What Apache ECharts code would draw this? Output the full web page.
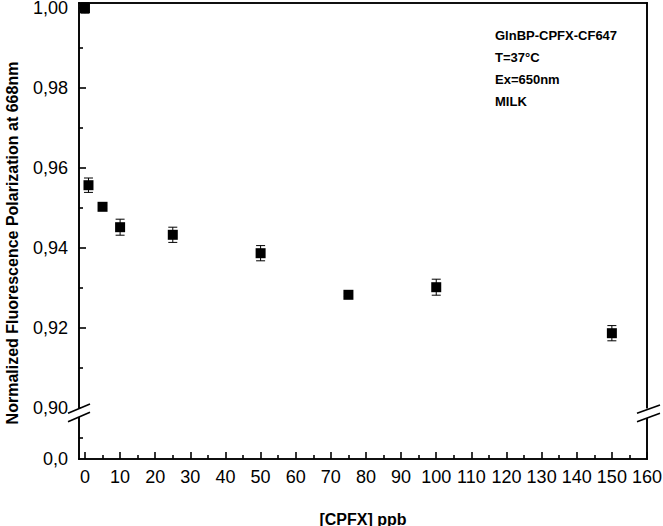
<!DOCTYPE html>
<html>
<head>
<meta charset="utf-8">
<script src="https://cdn.jsdelivr.net/npm/echarts@6/dist/echarts.min.js"></script>
<style>html,body{margin:0;padding:0;background:#fff}#c{width:663px;height:526px}</style>
</head>
<body>
<div id="c"></div>
<script>
// ---- data ----
var concentrations = [0, 1, 5, 10, 25, 50, 75, 100, 150];
var polarization = [1.000, 0.9557, 0.9503, 0.9452, 0.9433, 0.9387, 0.9283, 0.9302, 0.9187];
var errors = [0.0013, 0.0018, 0.0004, 0.0020, 0.0019, 0.0019, 0.0004, 0.0020, 0.0019];
var xTicks = [0, 10, 20, 30, 40, 50, 60, 70, 80, 90, 100, 110, 120, 130, 140, 150, 160];
var xMinorTicks = [5, 15, 25, 35, 45, 55, 65, 75, 85, 95, 105, 115, 125, 135, 145, 155];
var yTicks = [0.90, 0.92, 0.94, 0.96, 0.98, 1.00];
var yMinorTicks = [0.91, 0.93, 0.95, 0.97, 0.99];
var yLowTicks = [0];
var yLowMinorTicks = [0.05];
var annotations = ['GlnBP-CPFX-CF647', 'T=37\u00B0C', 'Ex=650nm', 'MILK'];
var xTitle = '[CPFX] ppb';
var yTitle = 'Normalized Fluorescence Polarization at 668nm';

var FONT = "'Liberation Sans', Arial, Helvetica, sans-serif";
var LW = 1.6;
var pts = concentrations.map(function (x, i) { return [x, polarization[i], errors[i]]; });

function axLine() { return { show: true, onZero: false, lineStyle: { color: '#000', width: LW } }; }
function lineOnly(gridIndex, position, extra) {
  var o = {
    type: 'value', gridIndex: gridIndex, position: position,
    axisLine: axLine(),
    axisTick: { show: false }, axisLabel: { show: false }, splitLine: { show: false }
  };
  return Object.assign(o, extra);
}

var chart = echarts.init(document.getElementById('c'), null, { renderer: 'svg' });
var xr = { min: -1.7, max: 160 };
var upY = { min: 0.90, max: 1.00125 };
var lowY = { min: 0, max: 0.1 };

var option = {
  backgroundColor: '#fff',
  animation: false,
  textStyle: { fontFamily: FONT },
  grid: [
    { left: 79, right: 16, top: 3, height: 405, outerBoundsMode: 'none', containLabel: false },
    { left: 79, right: 16, top: 417, height: 42, outerBoundsMode: 'none', containLabel: false }
  ],
  xAxis: [
    lineOnly(0, 'top', { min: xr.min, max: xr.max }),
    {
      type: 'value', gridIndex: 1, position: 'bottom', min: xr.min, max: xr.max,
      axisLine: axLine(),
      axisTick: { show: true, inside: true, length: 7, customValues: xTicks, lineStyle: { color: '#000', width: LW } },
      axisLabel: { show: true, customValues: xTicks, color: '#000', fontSize: 18, fontFamily: FONT, margin: 9 },
      splitLine: { show: false },
      name: xTitle, nameLocation: 'middle', nameGap: 52,
      nameTextStyle: { color: '#000', fontSize: 16, fontWeight: 'bold', fontFamily: FONT }
    },
    {
      type: 'value', gridIndex: 1, position: 'bottom', min: xr.min, max: xr.max,
      axisLine: { show: false, onZero: false },
      axisTick: { show: true, inside: true, length: 4, customValues: xMinorTicks, lineStyle: { color: '#000', width: LW } },
      axisLabel: { show: false }, splitLine: { show: false }
    }
  ],
  yAxis: [
    {
      type: 'value', gridIndex: 0, position: 'left', min: upY.min, max: upY.max,
      axisLine: axLine(),
      axisTick: { show: true, inside: true, length: 7, customValues: yTicks, lineStyle: { color: '#000', width: LW } },
      axisLabel: { show: true, customValues: yTicks, color: '#000', fontSize: 18, fontFamily: FONT, margin: 11,
        formatter: function (v) { return v.toFixed(2).replace('.', ','); } },
      splitLine: { show: false }
    },
    {
      type: 'value', gridIndex: 0, position: 'left', min: upY.min, max: upY.max,
      axisLine: { show: false, onZero: false },
      axisTick: { show: true, inside: true, length: 4, customValues: yMinorTicks, lineStyle: { color: '#000', width: LW } },
      axisLabel: { show: false }, splitLine: { show: false }
    },
    lineOnly(0, 'right', { min: upY.min, max: upY.max }),
    {
      type: 'value', gridIndex: 1, position: 'left', min: lowY.min, max: lowY.max,
      axisLine: axLine(),
      axisTick: { show: true, inside: true, length: 4, customValues: yLowMinorTicks, lineStyle: { color: '#000', width: LW } },
      axisLabel: { show: true, customValues: yLowTicks, color: '#000', fontSize: 18, fontFamily: FONT, margin: 11,
        formatter: function (v) { return v.toFixed(1).replace('.', ','); } },
      splitLine: { show: false }
    },
    lineOnly(1, 'right', { min: lowY.min, max: lowY.max })
  ],
  series: [
    {
      type: 'custom', xAxisIndex: 0, yAxisIndex: 0, data: pts, z: 2, clip: false,
      renderItem: function (params, api) {
        var x = api.value(0), y = api.value(1), e = api.value(2);
        var top = api.coord([x, y + e]), bot = api.coord([x, y - e]);
        var hw = 4.5;
        var st = { stroke: '#000', lineWidth: 1 };
        return {
          type: 'group', children: [
            { type: 'line', shape: { x1: top[0], y1: top[1], x2: bot[0], y2: bot[1] }, style: st },
            { type: 'line', shape: { x1: top[0] - hw, y1: top[1], x2: top[0] + hw, y2: top[1] }, style: st },
            { type: 'line', shape: { x1: bot[0] - hw, y1: bot[1], x2: bot[0] + hw, y2: bot[1] }, style: st }
          ]
        };
      }
    },
    {
      type: 'scatter', xAxisIndex: 0, yAxisIndex: 0, z: 3,
      symbol: 'rect', symbolSize: 10,
      itemStyle: { color: '#000', opacity: 1 },
      data: pts.map(function (p) { return [p[0], p[1]]; })
    }
  ]
};
chart.setOption(option);

// ---- frame (from axis scales), axis break marks and texts ----
var zr = chart.getZr();
var G = echarts.graphic;
function px(idx, v) { return chart.convertToPixel({ xAxisIndex: idx }, v); }
function py(idx, v) { return chart.convertToPixel({ yAxisIndex: idx }, v); }
var L = Math.round(px(0, xr.min)), R = Math.round(px(0, xr.max));
var T = Math.round(py(0, upY.max)), UB = py(0, upY.min);
var LT = py(3, lowY.max), B = Math.round(py(3, lowY.min));
var hw = LW / 2;
function bar(x, y, w, h) {
  zr.add(new G.Rect({ z: 300, shape: { x: x, y: y, width: w, height: h }, style: { fill: '#000', stroke: null } }));
}
bar(L - hw, T - hw, R - L + LW, LW);      // top
bar(L - hw, T - hw, LW, UB - T + hw);     // upper left
bar(R - hw, T - hw, LW, UB - T + hw);     // upper right
bar(L - hw, LT, LW, B - LT + hw);         // lower left
bar(R - hw, LT, LW, B - LT + hw);         // lower right
bar(L - hw, B - hw, R - L + LW, LW);      // bottom

function addBreak(p) {
  zr.add(new G.Polygon({ z: 400, shape: { points: p.mask }, style: { fill: '#fff', stroke: null } }));
  zr.add(new G.Line({ z: 401, shape: p.a, style: { stroke: '#000', lineWidth: LW } }));
  zr.add(new G.Line({ z: 401, shape: p.b, style: { stroke: '#000', lineWidth: LW } }));
}
addBreak({
  mask: [[66, 414.2], [92, 403.1], [92, 411.5], [66, 422.6]],
  a: { x1: 68, y1: 413.3, x2: 90, y2: 404 },
  b: { x1: 68, y1: 421.7, x2: 90, y2: 412.3 }
});
addBreak({
  mask: [[635, 414], [662, 404.3], [662, 412.7], [635, 422.4]],
  a: { x1: 637, y1: 413.3, x2: 660, y2: 405 },
  b: { x1: 637, y1: 421.7, x2: 660, y2: 413.3 }
});
zr.add(new G.Text({
  z: 50, x: 12, y: 243, rotation: Math.PI / 2,
  style: { text: yTitle, fill: '#000', font: 'bold 16px ' + FONT, align: 'center', verticalAlign: 'middle' }
}));
annotations.forEach(function (t, i) {
  zr.add(new G.Text({
    z: 50, x: 495, y: 35.5 + i * 22,
    style: { text: t, fill: '#000', font: 'bold 13px ' + FONT, align: 'left', verticalAlign: 'middle' }
  }));
});
zr.refreshImmediately();
</script>
</body>
</html>
